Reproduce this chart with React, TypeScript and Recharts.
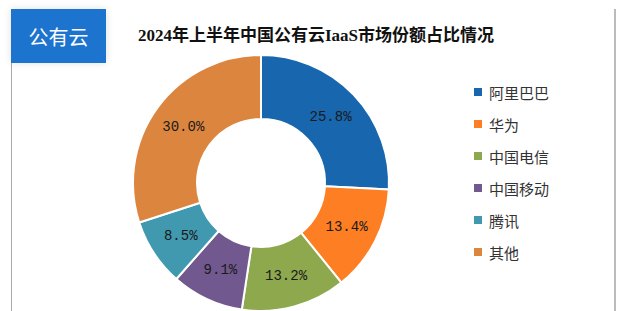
import { PieChart, Pie, Cell, Legend } from "recharts";

const vendors = ["阿里巴巴", "华为", "中国电信", "中国移动", "腾讯", "其他"];
const shares = [25.8, 13.4, 13.2, 9.1, 8.5, 30.0];
const colours = ["#1766ae", "#fd7e23", "#8ea84e", "#71588f", "#4199b0", "#dc853e"];

const data = vendors.map((name, i) => ({ name, value: shares[i] }));

const RAD = Math.PI / 180;

function renderLabel(props: any) {
  const { cx, cy, midAngle, innerRadius, outerRadius, value } = props;
  const r = (innerRadius + outerRadius) / 2;
  const x = cx + r * Math.cos(-midAngle * RAD);
  const y = cy + r * Math.sin(-midAngle * RAD);
  return (
    <text
      x={x}
      y={y}
      textAnchor="middle"
      dominantBaseline="central"
      fill="#1a1a1a"
      fontSize={14}
      fontFamily="'Liberation Mono', monospace"
    >
      {value.toFixed(1)}%
    </text>
  );
}

function LegendList({ payload }: any) {
  // keep the slice order, not the default sorted one
  const items = [...(payload || [])].sort(
    (a: any, b: any) => vendors.indexOf(a.value) - vendors.indexOf(b.value)
  );
  return (
    <ul style={{ listStyle: "none", margin: 0, padding: 0 }}>
      {items.map((p: any) => (
        <li
          key={p.value}
          style={{ display: "flex", alignItems: "center", height: 32, fontSize: 15, color: "#333" }}
        >
          <span style={{ width: 8, height: 8, background: p.color, marginRight: 7 }} />
          {p.value}
        </li>
      ))}
    </ul>
  );
}

export default function App() {
  return (
    <div
      style={{
        position: "absolute",
        left: 0,
        top: 0,
        width: 623,
        height: 311,
        background: "#fff",
        fontFamily: "'Noto Sans CJK SC', sans-serif",
        overflow: "hidden",
      }}
    >
      <div
        style={{
          position: "absolute",
          left: 11,
          top: 9,
          width: 602,
          height: 310,
          borderLeft: "1px solid #aaa",
          borderRight: "2px solid #bbb",
        }}
      />
      <PieChart
        width={623}
        height={311}
        margin={{ top: 0, right: 0, bottom: 0, left: 0 }}
        style={{ position: "absolute", left: 0, top: 0 }}
      >
        <Pie
          data={data}
          dataKey="value"
          nameKey="name"
          cx={261}
          cy={183}
          innerRadius={64}
          outerRadius={128}
          startAngle={90}
          endAngle={-270}
          stroke="#fff"
          strokeWidth={2}
          label={renderLabel}
          labelLine={false}
          isAnimationActive={false}
        >
          {data.map((d, i) => (
            <Cell key={d.name} fill={colours[i]} />
          ))}
        </Pie>
        <Legend
          layout="vertical"
          align="right"
          verticalAlign="top"
          content={<LegendList />}
          wrapperStyle={{ left: 474, top: 76, width: 130 }}
        />
      </PieChart>
      <div
        style={{
          position: "absolute",
          left: 11,
          top: 9,
          width: 95,
          height: 54,
          background: "#1d74cf",
          color: "#fff",
          fontSize: 20,
          display: "flex",
          alignItems: "center",
          justifyContent: "center",
          boxShadow: "0 0 8px rgba(0,0,0,0.12)",
        }}
      >
        公有云
      </div>
      <div
        style={{
          position: "absolute",
          left: 138,
          top: 21,
          fontSize: 17,
          fontWeight: "bold",
          color: "#111",
          fontFamily: "'Liberation Serif', 'Noto Sans CJK SC', serif",
          whiteSpace: "nowrap",
        }}
      >
        2024年上半年中国公有云IaaS市场份额占比情况
      </div>
    </div>
  );
}
